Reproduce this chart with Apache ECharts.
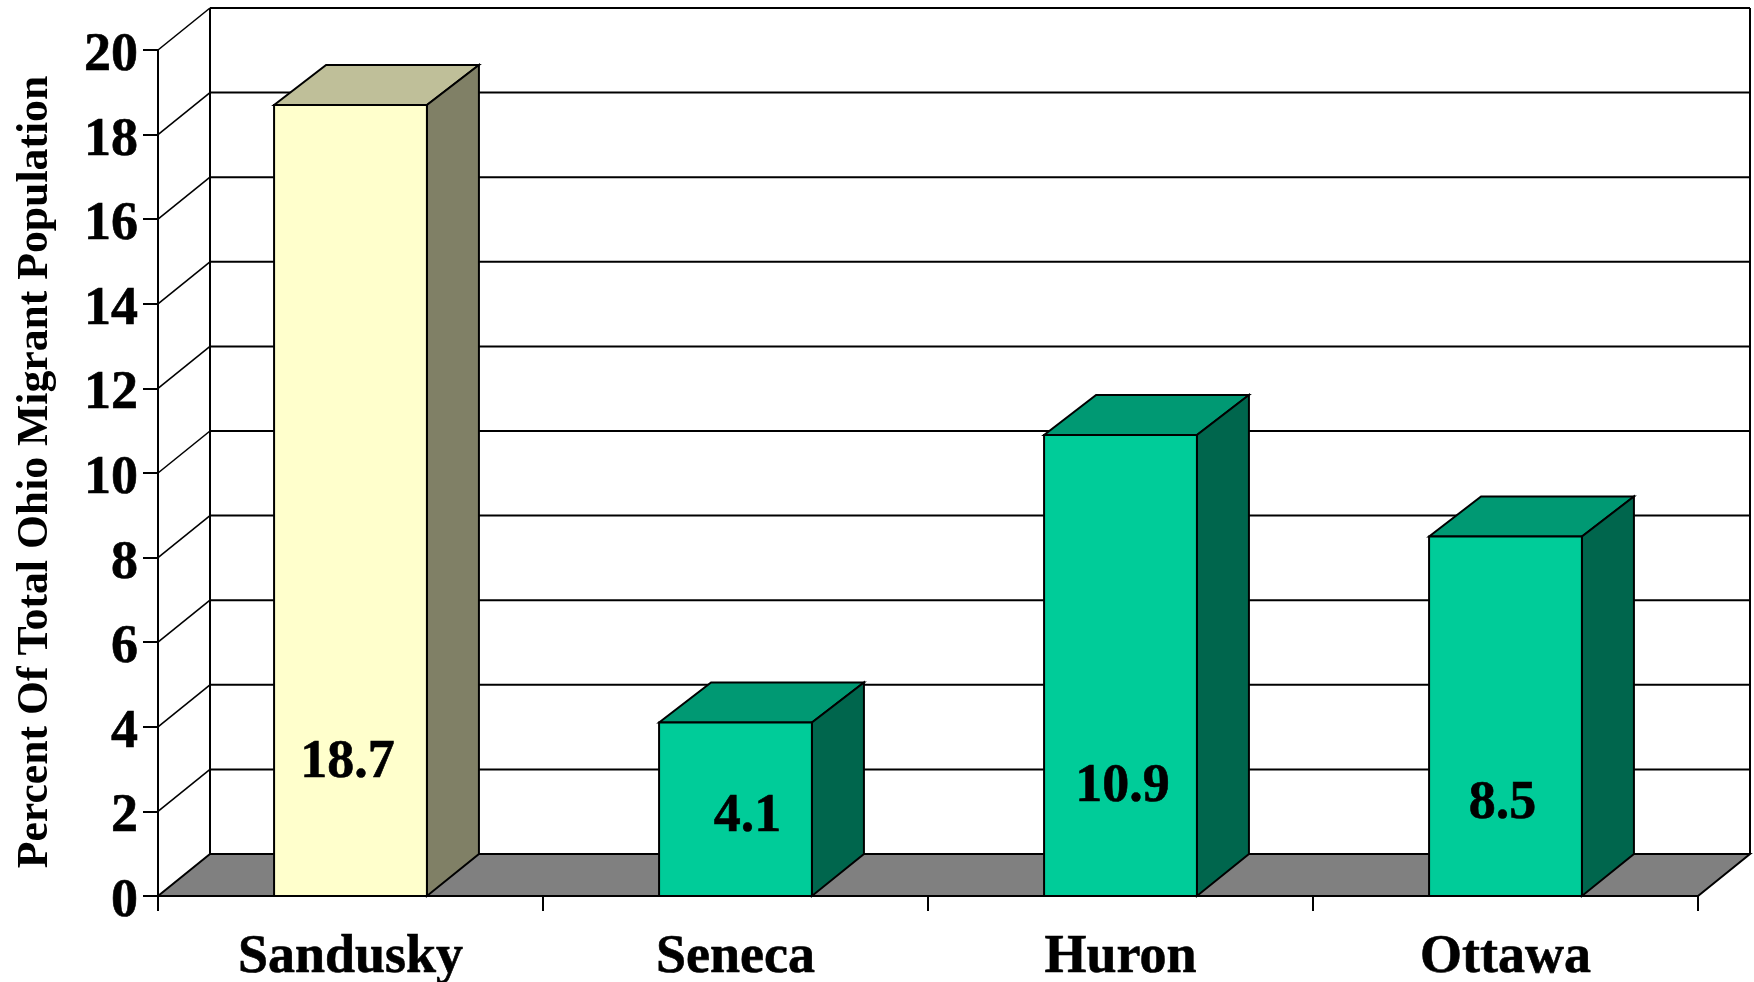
<!DOCTYPE html>
<html>
<head>
<meta charset="utf-8">
<style>html,body{margin:0;padding:0;background:#fff}#c{width:1754px;height:982px}</style>
<script src="https://cdn.jsdelivr.net/npm/echarts@6/dist/echarts.min.js"></script>
</head>
<body>
<div id="c"></div>
<script>
const categories = ['Sandusky', 'Seneca', 'Huron', 'Ottawa'];
const percentValues = [18.7, 4.1, 10.9, 8.5];
const yTicks = [0, 2, 4, 6, 8, 10, 12, 14, 16, 18, 20];
const yTitle = 'Percent Of Total Ohio Migrant Population';

const FONT = '"Liberation Serif","Times New Roman",serif';
const WALL_DX = 52, WALL_DY = 42, BAR_DX = 52, BAR_TOP_DY = 40, BAR_BOTTOM_DY = 42;
const LINE = '#000';
const palette = [
  { front: '#FFFFCC', top: '#BFBF99', side: '#808066' },
  { front: '#00CC99', top: '#009973', side: '#00664D' },
  { front: '#00CC99', top: '#009973', side: '#00664D' },
  { front: '#00CC99', top: '#009973', side: '#00664D' }
];
// label placement inside each bar: [shift from bar centre, height above the base]
const labelPlacement = [[-3, 133], [12, 79], [2, 109], [-3, 92]];

function line(x1, y1, x2, y2, w) {
  return { type: 'line', shape: { x1, y1, x2, y2 }, style: { stroke: LINE, lineWidth: w || 2 } };
}
function poly(points, fill) {
  return { type: 'polygon', shape: { points }, style: { fill, stroke: LINE, lineWidth: 2, lineJoin: 'miter' } };
}

function renderWall(params, api) {
  const cs = params.coordSys;
  const right = cs.x + cs.width;
  const v = api.value(0);
  const y = api.coord([0, v])[1];
  const kids = [];
  if (v === yTicks[0]) {
    const topY = api.coord([0, yTicks[yTicks.length - 1]])[1] - WALL_DY;
    kids.push(poly([[cs.x, y], [cs.x + WALL_DX, y - WALL_DY], [right + WALL_DX, y - WALL_DY], [right, y]], '#808080'));
    kids.push(line(cs.x + WALL_DX, topY, cs.x + WALL_DX, y - WALL_DY));
    kids.push(line(right + WALL_DX, topY, right + WALL_DX, y - WALL_DY));
  } else {
    kids.push(line(cs.x, y, cs.x + WALL_DX, y - WALL_DY, 1.6));
    kids.push(line(cs.x + WALL_DX, y - WALL_DY, right + WALL_DX, y - WALL_DY));
  }
  return { type: 'group', children: kids };
}

function renderBar(params, api) {
  const i = api.value(0);
  const val = api.value(1);
  const top = api.coord([i, val]);
  const base = api.coord([i, 0]);
  const w = api.size([1, 0])[0] * 0.397;
  const l = top[0] - w / 2, r = top[0] + w / 2, t = top[1], b = base[1];
  const c = palette[i];
  const place = labelPlacement[i];
  return {
    type: 'group',
    children: [
      poly([[l, t], [l + BAR_DX, t - BAR_TOP_DY], [r + BAR_DX, t - BAR_TOP_DY], [r, t]], c.top),
      poly([[r, t], [r + BAR_DX, t - BAR_TOP_DY], [r + BAR_DX, b - BAR_BOTTOM_DY], [r, b]], c.side),
      { type: 'rect', shape: { x: l, y: t, width: w, height: b - t }, style: { fill: c.front, stroke: LINE, lineWidth: 2 } },
      { type: 'text', style: {
          x: top[0] + place[0], y: b - place[1],
          text: val.toFixed(1), fill: '#000',
          font: 'bold 54px ' + FONT, align: 'center', verticalAlign: 'middle',
          stroke: '#000', lineWidth: 0.6
        } }
    ]
  };
}

const chart = echarts.init(document.getElementById('c'));
chart.setOption({
  backgroundColor: '#fff',
  animation: false,
  grid: { left: 158, top: 50, width: 1540, height: 846, containLabel: false, outerBoundsMode: 'none' },
  xAxis: {
    type: 'category',
    data: categories,
    z: 3,
    boundaryGap: true,
    axisLine: { show: true, lineStyle: { color: LINE, width: 2 } },
    axisTick: { show: true, length: 15, alignWithLabel: false, lineStyle: { color: LINE, width: 2 } },
    axisLabel: { color: '#000', fontFamily: FONT, fontWeight: 'bold', fontSize: 54, margin: 35, interval: 0,
      textBorderColor: '#000', textBorderWidth: 0.6 },
    splitLine: { show: false }
  },
  yAxis: {
    type: 'value',
    min: 0, max: 20, interval: 2,
    z: 3,
    name: yTitle,
    nameLocation: 'middle',
    nameRotate: 90,
    nameGap: 100,
    nameTextStyle: { color: '#000', fontFamily: FONT, fontWeight: 'bold', fontSize: 43.7, padding: [0, 0, 0, 2] },
    axisLine: { show: true, lineStyle: { color: LINE, width: 2 } },
    axisTick: { show: true, length: 15, lineStyle: { color: LINE, width: 2 } },
    axisLabel: { color: '#000', fontFamily: FONT, fontWeight: 'bold', fontSize: 54, margin: 20, showMinLabel: true, showMaxLabel: true,
      verticalAlign: 'top', lineHeight: 12, textBorderColor: '#000', textBorderWidth: 0.6 },
    splitLine: { show: false }
  },
  series: [
    { type: 'custom', z: 1, silent: true, clip: false, renderItem: renderWall,
      data: yTicks.map(v => [v]), encode: { y: 0 } },
    { type: 'custom', z: 4, silent: true, clip: false, renderItem: renderBar,
      data: percentValues.map((v, i) => [i, v]), encode: { x: 0, y: 1 } }
  ]
});
</script>
</body>
</html>
